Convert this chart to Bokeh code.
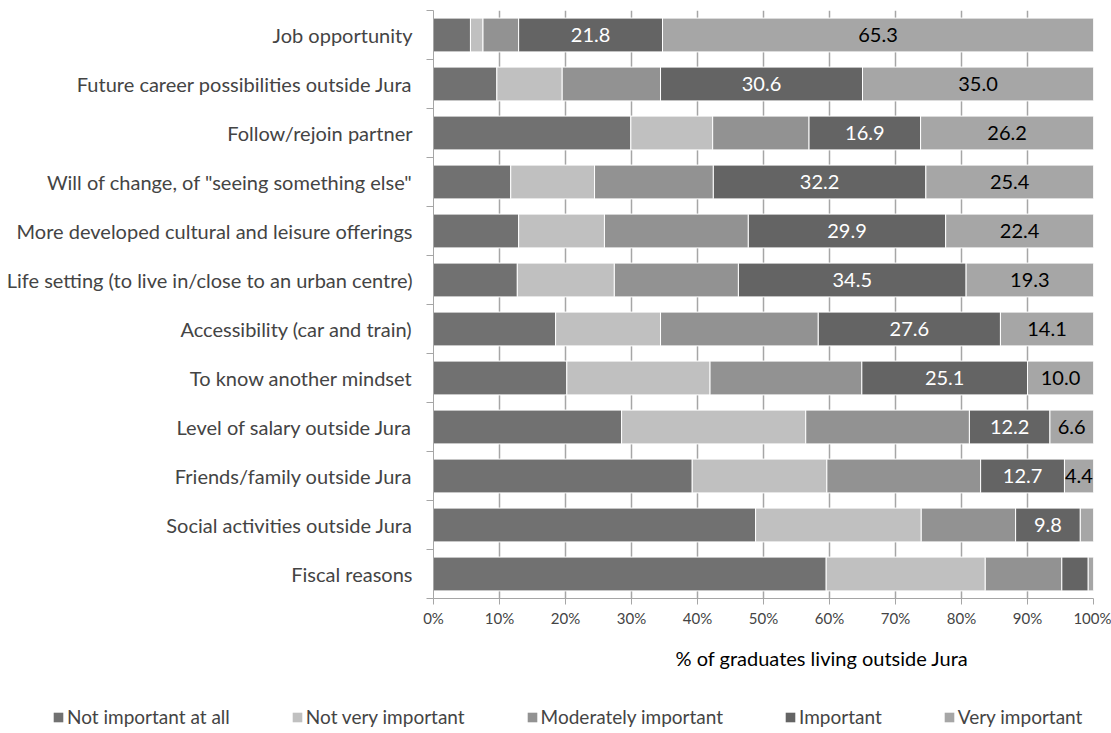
from bokeh.plotting import figure
from bokeh.layouts import column, row
from bokeh.models import (ColumnDataSource, FixedTicker, Legend, LegendItem,
                          PrintfTickFormatter, Range1d, Title)
from bokeh.core.properties import value
from bokeh.embed import file_html
from bokeh.resources import INLINE

categories = [
    "Job opportunity",
    "Future career possibilities outside Jura",
    "Follow/rejoin partner",
    'Will of change, of "seeing something else"',
    "More developed cultural and leisure offerings",
    "Life setting (to live in/close to an urban centre)",
    "Accessibility (car and train)",
    "To know another mindset",
    "Level of salary outside Jura",
    "Friends/family outside Jura",
    "Social activities outside Jura",
    "Fiscal reasons",
]
not_important = [5.6, 9.6, 29.9, 11.7, 12.9, 12.7, 18.5, 20.2, 28.5, 39.2, 48.8, 59.5]
not_very = [1.9, 9.9, 12.4, 12.7, 13.0, 14.7, 15.9, 21.7, 27.9, 20.4, 25.1, 24.1]
moderately = [5.4, 14.9, 14.6, 18.0, 21.8, 18.8, 23.9, 23.0, 24.8, 23.3, 14.3, 11.6]
important = [21.8, 30.6, 16.9, 32.2, 29.9, 34.5, 27.6, 25.1, 12.2, 12.7, 9.8, 4.0]
very_important = [65.3, 35.0, 26.2, 25.4, 22.4, 19.3, 14.1, 10.0, 6.6, 4.4, 2.0, 0.8]
series_names = ["Not important at all", "Not very important", "Moderately important",
                "Important", "Very important"]
series_colors = ["#717171", "#c0c0c0", "#929292", "#646464", "#a6a6a6"]
x_ticks = [0, 10, 20, 30, 40, 50, 60, 70, 80, 90, 100]
x_title = "% of graduates living outside Jura"

FONT = "Lato"
n = len(categories)
ypos = [n - i - 0.5 for i in range(n)]
keys = ["s0", "s1", "s2", "s3", "s4"]
data = dict(y=ypos, s0=not_important, s1=not_very, s2=moderately, s3=important, s4=very_important)
source = ColumnDataSource(data)

p = figure(width=1111, height=690, output_backend="svg", toolbar_location=None,
           x_range=Range1d(0, 100), y_range=Range1d(0, n),
           min_border_left=433, min_border_right=18, min_border_top=10,
           min_border_bottom=92)
p.outline_line_color = None
p.ygrid.visible = False
p.xgrid.ticker = FixedTicker(ticks=x_ticks)
p.xgrid.grid_line_color = "#a6a6a6"
p.xgrid.grid_line_width = 1.5

renderers = p.hbar_stack(keys, y="y", height=0.69, color=series_colors, source=source,
                         line_color="white", line_width=1)

# data labels
imp_x, imp_y, imp_t = [], [], []
vi_x, vi_y, vi_t = [], [], []
for i in range(n):
    base = not_important[i] + not_very[i] + moderately[i]
    if important[i] >= 4.2:
        imp_x.append(base + important[i] / 2)
        imp_y.append(ypos[i])
        imp_t.append("%.1f" % important[i])
    if very_important[i] >= 4.2:
        vi_x.append(base + important[i] + very_important[i] / 2)
        vi_y.append(ypos[i])
        vi_t.append("%.1f" % very_important[i])
p.text(x=imp_x, y=imp_y, text=imp_t, text_align="center", text_baseline="middle",
       text_color="white", text_font=value(FONT), text_font_size="20px")
p.text(x=vi_x, y=vi_y, text=vi_t, text_align="center", text_baseline="middle",
       text_color="black", text_font=value(FONT), text_font_size="20px")

# x axis
xa = p.xaxis[0]
xa.ticker = FixedTicker(ticks=x_ticks)
xa.formatter = PrintfTickFormatter(format="%d%%")
xa.axis_line_color = "#a6a6a6"
xa.major_tick_line_color = "#a6a6a6"
xa.major_tick_out = 6
xa.major_tick_in = 0
xa.minor_tick_out = 0
xa.major_label_text_font = FONT
xa.major_label_text_font_size = "15px"
xa.major_label_standoff = 4

# x axis title (offset to the right as in the reference)
p.add_layout(Title(text=x_title, align="left", offset=242, standoff=29,
                   text_font=FONT, text_font_size="20px", text_font_style="normal",
                   text_color="black"), "below")

# y axis
ya = p.yaxis[0]
ya.ticker = FixedTicker(ticks=ypos, minor_ticks=list(range(n + 1)))
ya.major_label_overrides = {yv: c for yv, c in zip(ypos, categories)}
ya.axis_line_color = "#a6a6a6"
ya.major_tick_out = 0
ya.major_tick_in = 0
ya.minor_tick_out = 7
ya.minor_tick_in = 0
ya.minor_tick_line_color = "#a6a6a6"
ya.major_label_text_font = FONT
ya.major_label_text_font_size = "20px"
ya.major_label_standoff = 14

# legend strip below the chart (its own small figure, frame spanning full width)
lp = figure(width=1111, height=43, output_backend="svg", toolbar_location=None,
            x_range=Range1d(0, 1), y_range=Range1d(0, 1), min_border=0)
lp.axis.visible = False
lp.grid.visible = False
lp.outline_line_color = None
offscreen = ColumnDataSource(dict(y=[-5.0], right=[-5.0]))
leg_renderers = [lp.hbar(y="y", right="right", height=0.5, fill_color=col, line_color=None,
                         source=offscreen) for col in series_colors]
legend = Legend(items=[LegendItem(label=nm, renderers=[r]) for nm, r in zip(series_names, leg_renderers)],
                location=(52, 5), orientation="horizontal",
                padding=0, margin=0, spacing=61, border_line_alpha=0,
                background_fill_alpha=0, glyph_width=12, glyph_height=12,
                label_standoff=3, label_text_font=FONT, label_text_font_size="19px")
lp.add_layout(legend, "center")

open("out.html", "w").write(file_html(column(p, row(lp), spacing=0), INLINE))
